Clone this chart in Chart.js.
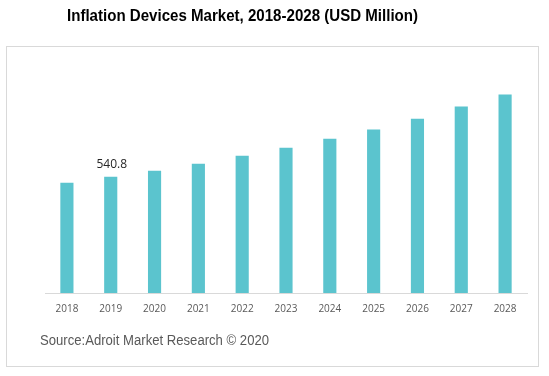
<!DOCTYPE html>
<html>
<head>
<meta charset="utf-8">
<script src="https://cdn.jsdelivr.net/npm/chart.js@4.4.0/dist/chart.umd.min.js"></script>
<style>
    html, body { margin: 0; padding: 0; background: #fff; }
    #wrap { position: relative; width: 549px; height: 376px; }
</style>
</head>
<body>
<div id="wrap"><canvas id="marketChart" width="549" height="376"></canvas></div>
<script>
// Inflation Devices Market (USD Million)
const years = ['2018', '2019', '2020', '2021', '2022', '2023', '2024', '2025', '2026', '2027', '2028'];
const marketSize = [512.8, 540.8, 568.8, 601.0, 638.7, 676.0, 718.0, 760.0, 811.0, 867.0, 923.0];
const labelledIndex = 1; // only 2019 carries a value label
const chartTitle = 'Inflation Devices Market, 2018-2028 (USD Million)';
const sourceText = 'Source:Adroit Market Research \u00A9 2020';

// frame, title and source line around the plot
const decorations = {
    id: 'decorations',
    beforeDraw(chart) {
        const ctx = chart.ctx;
        ctx.save();
        ctx.strokeStyle = '#d9d9d9';
        ctx.lineWidth = 1;
        ctx.strokeRect(6.5, 46.5, 532, 320);

        ctx.fillStyle = '#000';
        ctx.font = 'bold 16px "Liberation Sans", Arial, sans-serif';
        ctx.textBaseline = 'middle';
        ctx.textAlign = 'left';
        ctx.fillText(chartTitle, 67, 17, 351);

        ctx.fillStyle = '#595959';
        ctx.font = '14px "Liberation Sans", Arial, sans-serif';
        ctx.fillText(sourceText, 40, 341, 229);
        ctx.restore();
    },
    afterDatasetsDraw(chart) {
        const ctx = chart.ctx;
        const bar = chart.getDatasetMeta(0).data[labelledIndex];
        ctx.save();
        ctx.fillStyle = '#262626';
        ctx.font = '12px "Open Sans", sans-serif';
        ctx.textAlign = 'center';
        ctx.textBaseline = 'middle';
        ctx.fillText(marketSize[labelledIndex].toFixed(1), bar.x + 1, bar.y - 12);
        ctx.restore();
    }
};

const ctx = document.getElementById('marketChart').getContext('2d');
new Chart(ctx, {
    type: 'bar',
    data: {
        labels: years,
        datasets: [{
            label: 'Market size',
            data: marketSize,
            backgroundColor: '#5bc4ce',
            borderWidth: 0,
            categoryPercentage: 1,
            barPercentage: 0.3
        }]
    },
    options: {
        responsive: false,
        animation: false,
        layout: {
            padding: { left: 45, right: 22, top: 78, bottom: 63 }
        },
        scales: {
            x: {
                grid: { display: false, drawTicks: false },
                border: { display: true, color: '#d9d9d9', width: 1 },
                ticks: {
                    color: '#595959',
                    font: { family: '"Open Sans", sans-serif', size: 10 },
                    padding: 10,
                    maxRotation: 0
                },
                afterFit(scale) { scale.height = 20; }
            },
            y: {
                display: false,
                min: 0,
                max: 1000
            }
        },
        plugins: {
            legend: { display: false },
            title: { display: false },
            tooltip: { enabled: false }
        }
    },
    plugins: [decorations]
});
</script>
</body>
</html>
